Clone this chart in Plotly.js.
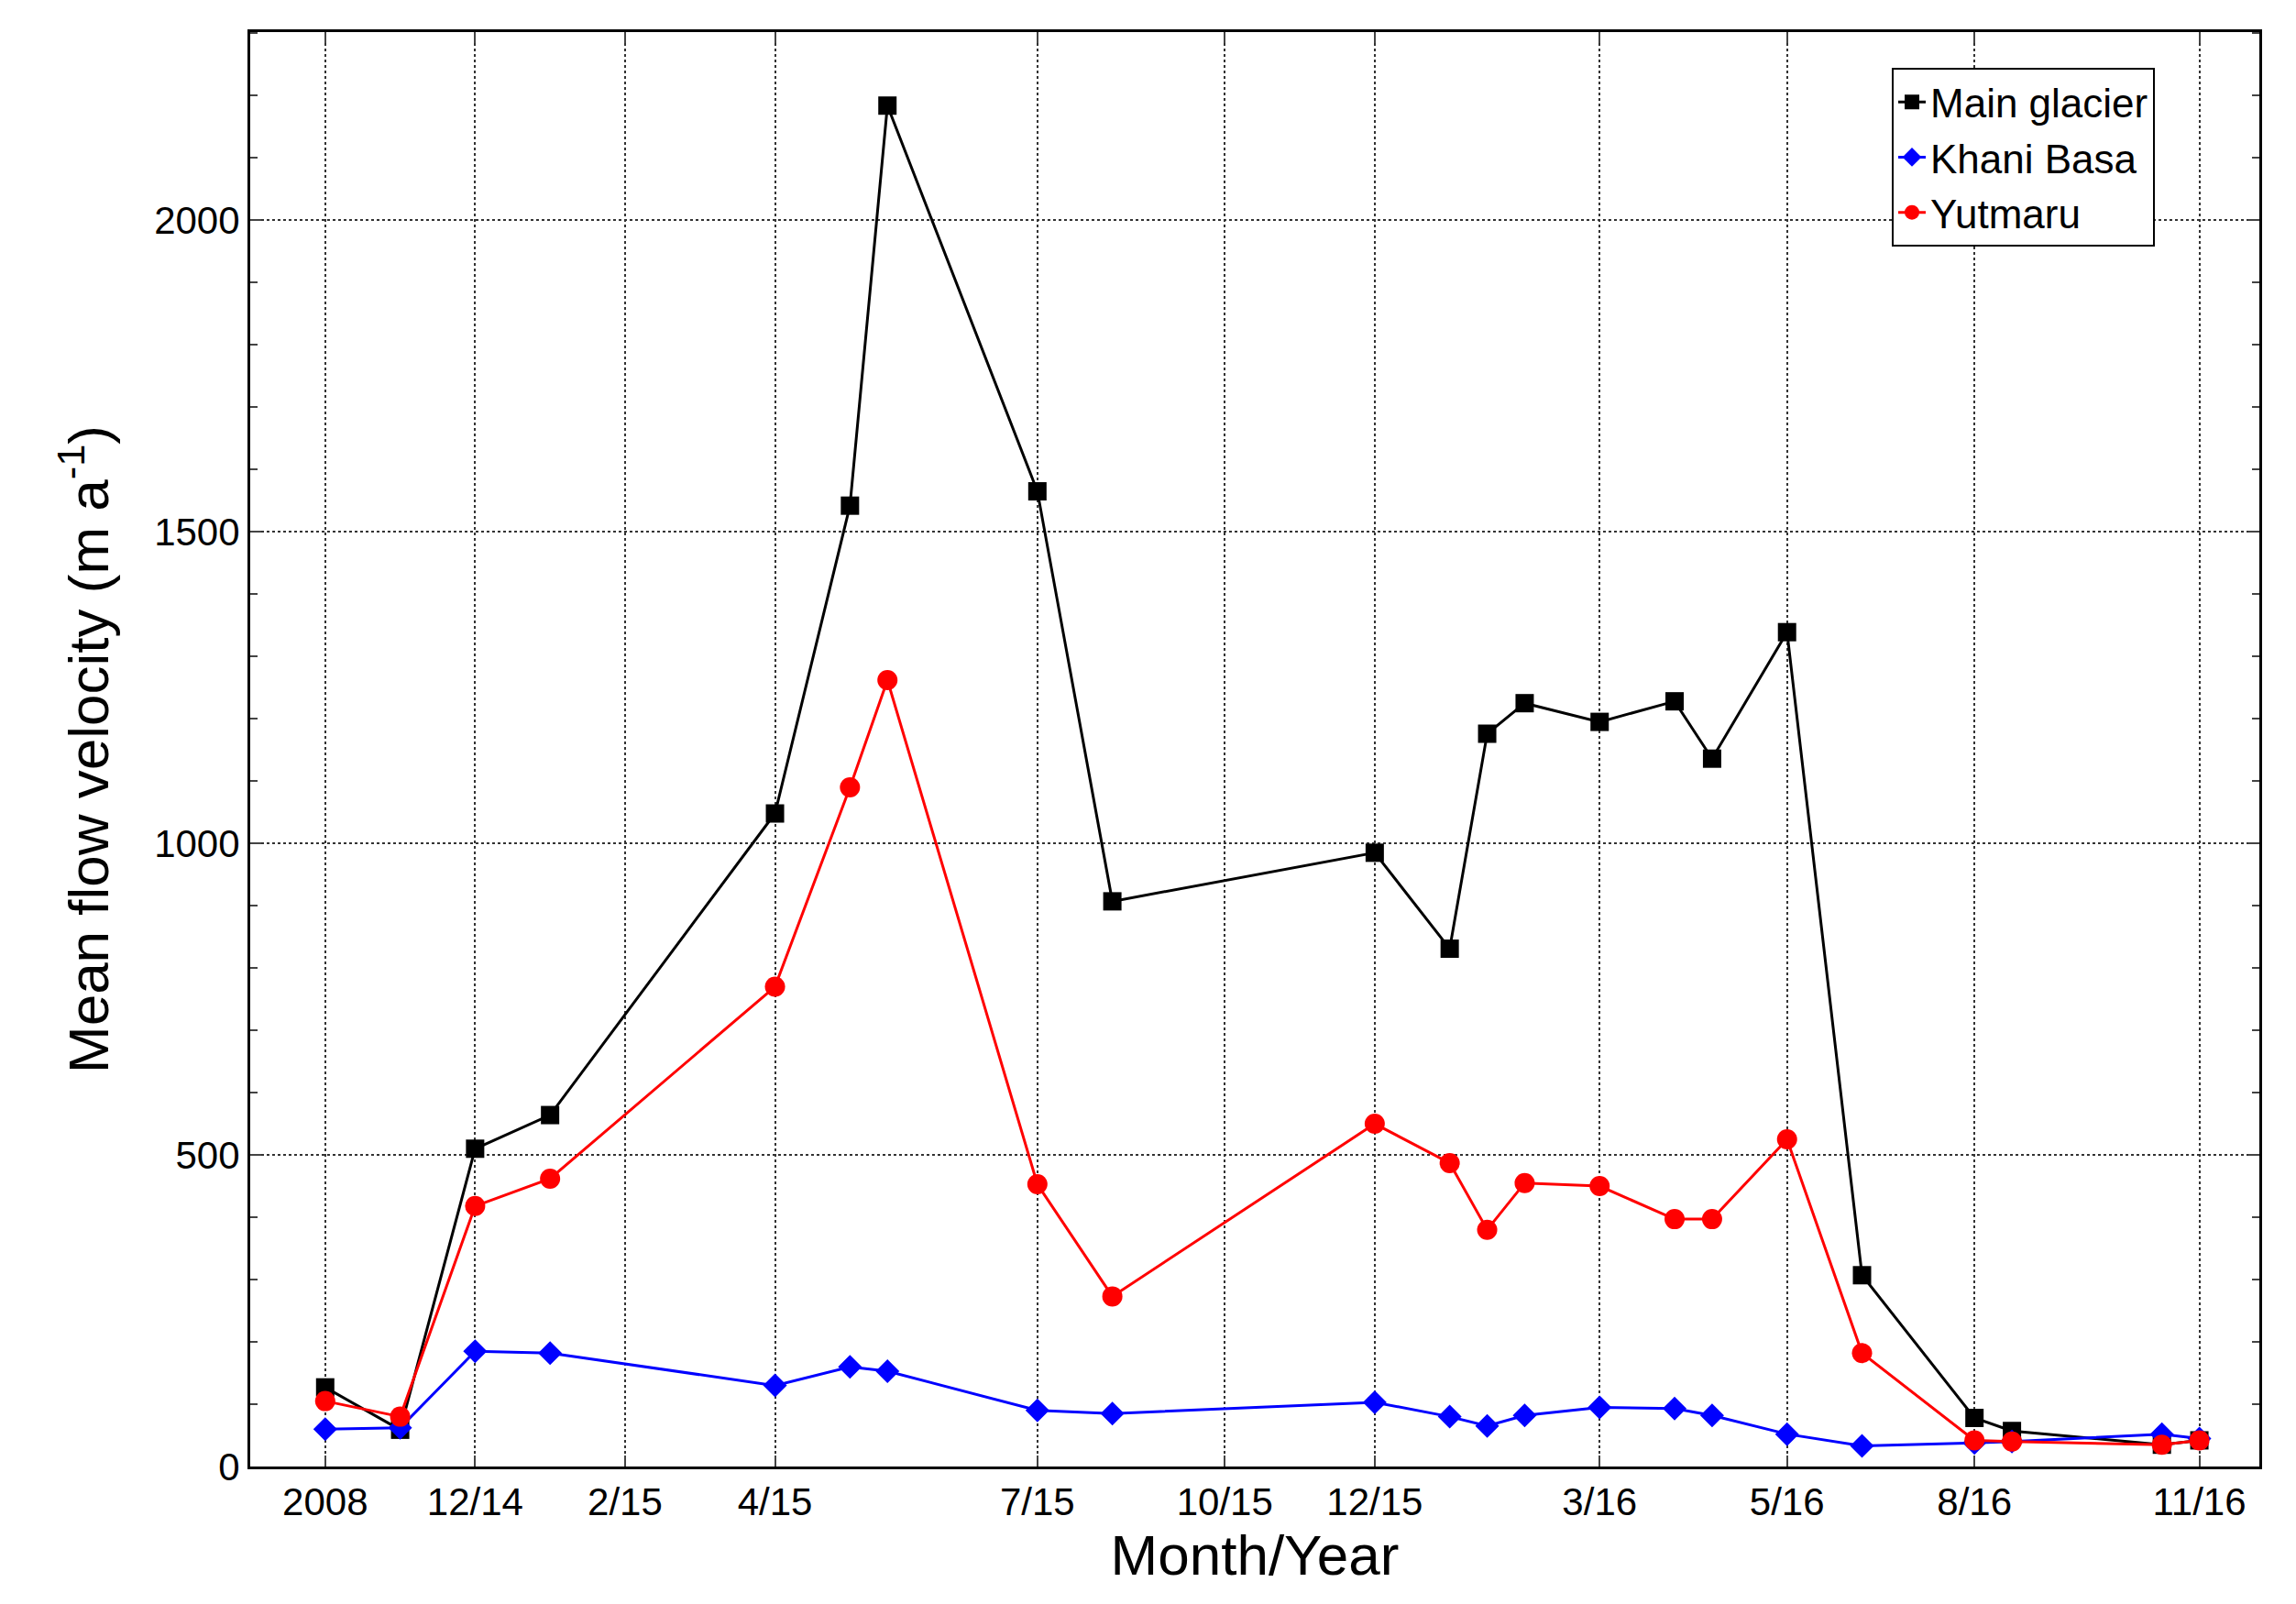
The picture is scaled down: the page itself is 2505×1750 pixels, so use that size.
<html><head><script src="https://cdn.plot.ly/plotly-3.0.1.min.js"></script></head>
<body style="margin:0;background:#fff"><div id="myDiv" style="width:2505px;height:1750px"></div>
<script>
// x positions are month indexes counted from the first survey
var xPos = [0, 2, 4, 6, 12, 14, 15, 19, 21, 28, 30, 31, 32, 34, 36, 37, 39, 41, 44, 45, 49, 50];
var mainGlacier = [127, 59, 510, 564, 1048, 1542, 2184, 1565, 907, 985, 831, 1176, 1225, 1195, 1228, 1136, 1339, 307, 78, 57, 35, 42];
var khaniBasa = [60, 62, 185, 182, 130, 160, 153, 90, 85, 103, 80, 65, 82, 95, 93, 82, 52, 33, 38, 40, 52, 45];
var yutmaru = [105, 80, 418, 462, 770, 1090, 1262, 453, 273, 550, 487, 380, 455, 450, 397, 397, 525, 182, 42, 40, 35, 42];
var tickVals = [0, 4, 8, 12, 19, 24, 28, 34, 39, 44, 50];
var tickText = ['2008', '12/14', '2/15', '4/15', '7/15', '10/15', '12/15', '3/16', '5/16', '8/16', '11/16'];

var data = [
  {name: 'Main glacier', x: xPos, y: mainGlacier, mode: 'lines+markers',
   line: {color: 'black', width: 3}, marker: {symbol: 'square', size: 20, color: 'black'}},
  {name: 'Khani Basa', x: xPos, y: khaniBasa, mode: 'lines+markers',
   line: {color: 'blue', width: 3}, marker: {symbol: 'diamond', size: 20, color: 'blue'}},
  {name: 'Yutmaru', x: xPos, y: yutmaru, mode: 'lines+markers',
   line: {color: 'red', width: 3}, marker: {symbol: 'circle', size: 22, color: 'red'}}
];

var grid = {showgrid: true, gridcolor: '#333', griddash: 'dot', gridwidth: 1.5};
var layout = {
  width: 2505, height: 1750, paper_bgcolor: 'white', plot_bgcolor: 'white',
  margin: {l: 273, r: 40, t: 35, b: 150},
  font: {family: 'Liberation Sans, Arial', size: 42, color: 'black'},
  xaxis: Object.assign({range: [-2, 51.6], tickvals: tickVals, ticktext: tickText,
    showline: true, mirror: 'ticks', linecolor: 'black', linewidth: 3, ticks: 'inside', ticklen: 12,
    tickwidth: 2, zeroline: false, title: {text: 'Month/Year', font: {size: 62}, standoff: 8}}, grid),
  yaxis: Object.assign({range: [0, 2302], dtick: 500, showline: true, mirror: 'ticks',
    linecolor: 'black', linewidth: 3, ticks: 'inside', ticklen: 12, tickwidth: 2, zeroline: false,
    minor: {dtick: 100, ticks: 'inside', ticklen: 8, showgrid: false},
    title: {text: 'Mean flow velocity (m a<sup>-1</sup>)', font: {size: 62}, standoff: 30}}, grid),
  legend: {x: 0.948, y: 0.975, xanchor: 'right', yanchor: 'top', bordercolor: 'black', borderwidth: 2,
    bgcolor: 'white', font: {size: 44}, tracegroupgap: 0}
};

Plotly.newPlot('myDiv', data, layout, {displayModeBar: false});
</script></body></html>
